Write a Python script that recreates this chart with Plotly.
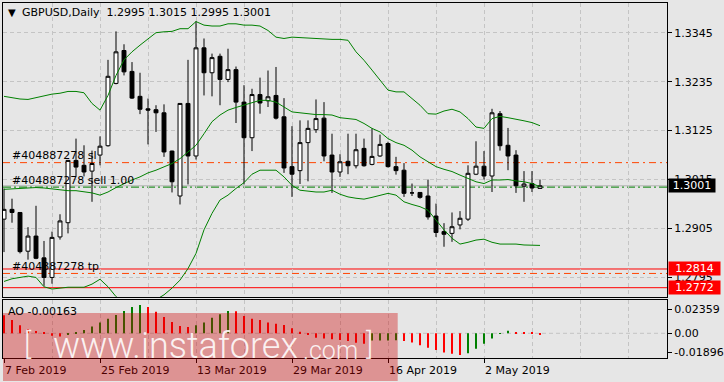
import plotly.graph_objects as go
import pandas as pd

# ---------------- data ----------------
dates = pd.bdate_range("2019-02-07", "2019-05-13")

opens = [1.2926, 1.2948, 1.2941, 1.2854, 1.2888, 1.2839, 1.2795, 1.2886, 1.2918, 1.3058,
         1.3047, 1.3034, 1.3070, 1.3091, 1.3231, 1.3305, 1.3258, 1.3202, 1.3174, 1.3172,
         1.3165, 1.3079, 1.2978, 1.3186, 1.3068, 1.3311, 1.3255, 1.3292, 1.3240, 1.3262,
         1.3189, 1.3109, 1.3206, 1.3192, 1.3204, 1.3156, 1.3044, 1.3035, 1.3098, 1.3127,
         1.3153, 1.3070, 1.3032, 1.3056, 1.3046, 1.3085, 1.3049, 1.3068, 1.3096, 1.3044,
         1.3036, 1.2985, 1.2986, 1.2978, 1.2933, 1.2898, 1.2894, 1.2913, 1.2926, 1.3027,
         1.3045, 1.3023, 1.3163, 1.3092, 1.3070, 1.3000, 1.3006, 1.2995]
highs = [1.2995, 1.2972, 1.2942, 1.2908, 1.2956, 1.2877, 1.2898, 1.2937, 1.3059, 1.3107,
         1.3092, 1.3080, 1.3112, 1.3284, 1.3348, 1.3319, 1.3279, 1.3255, 1.3197, 1.3182,
         1.3184, 1.3080, 1.3187, 1.3284, 1.3371, 1.3332, 1.3298, 1.3298, 1.3309, 1.3269,
         1.3227, 1.3219, 1.3244, 1.3260, 1.3268, 1.3198, 1.3135, 1.3148, 1.3148, 1.3195,
         1.3189, 1.3118, 1.3072, 1.3118, 1.3118, 1.3107, 1.3130, 1.3116, 1.3100, 1.3066,
         1.3052, 1.3006, 1.2987, 1.3015, 1.2961, 1.2917, 1.2941, 1.2944, 1.3047, 1.3101,
         1.3079, 1.3174, 1.3169, 1.3131, 1.3081, 1.3034, 1.3034, 1.3015]
lows = [1.2852, 1.2918, 1.2849, 1.2835, 1.2836, 1.2776, 1.2781, 1.2880, 1.2894, 1.3022,
        1.3022, 1.2965, 1.3047, 1.3089, 1.3229, 1.3249, 1.3196, 1.3162, 1.3094, 1.3122,
        1.3066, 1.2986, 1.2959, 1.3004, 1.3060, 1.3204, 1.3202, 1.3182, 1.3234, 1.3142,
        1.3004, 1.3079, 1.3163, 1.3178, 1.3150, 1.3030, 1.2976, 1.3005, 1.3011, 1.3120,
        1.3056, 1.2985, 1.3021, 1.3027, 1.3040, 1.3044, 1.3047, 1.3066, 1.3042, 1.3026,
        1.2976, 1.2978, 1.2972, 1.2925, 1.2886, 1.2864, 1.2875, 1.2903, 1.2922, 1.3025,
        1.3015, 1.2987, 1.3080, 1.3036, 1.2985, 1.2965, 1.2987, 1.2995]
closes = [1.2948, 1.2941, 1.2853, 1.2888, 1.2838, 1.2795, 1.2885, 1.2922, 1.3058, 1.3043,
          1.3032, 1.3051, 1.3090, 1.3247, 1.3302, 1.3257, 1.3198, 1.3173, 1.3171, 1.3165,
          1.3077, 1.3010, 1.3186, 1.3068, 1.3311, 1.3255, 1.3289, 1.3240, 1.3262, 1.3189,
          1.3109, 1.3206, 1.3187, 1.3201, 1.3153, 1.3041, 1.3027, 1.3098, 1.3130, 1.3152,
          1.3068, 1.3032, 1.3055, 1.3046, 1.3082, 1.3046, 1.3067, 1.3094, 1.3044, 1.3035,
          1.2984, 1.2985, 1.2975, 1.2931, 1.2896, 1.2892, 1.2909, 1.2928, 1.3029, 1.3045,
          1.3023, 1.3165, 1.3091, 1.3068, 1.3001, 1.3005, 1.2996, 1.3001]

bb_upper = [1.3202, 1.3199, 1.3196, 1.3195, 1.3199, 1.3204, 1.3207, 1.3209, 1.3213, 1.3213,
            1.3210, 1.3186, 1.3171, 1.3204, 1.3249, 1.3284, 1.3302, 1.3317, 1.3332, 1.3345,
            1.3347, 1.3348, 1.3354, 1.3354, 1.3370, 1.3362, 1.3360, 1.3360, 1.3365, 1.3365,
            1.3362, 1.3362, 1.3360, 1.3350, 1.3335, 1.3332, 1.3335, 1.3334, 1.3333, 1.3332,
            1.3330, 1.3330, 1.3330, 1.3328, 1.3302, 1.3283, 1.3261, 1.3238, 1.3216, 1.3212,
            1.3212, 1.3197, 1.3182, 1.3163, 1.3162, 1.3169, 1.3173, 1.3167, 1.3152, 1.3133,
            1.3130, 1.3152, 1.3157, 1.3154, 1.3151, 1.3147, 1.3143, 1.3136]
bb_middle = [1.2993, 1.2994, 1.2996, 1.2997, 1.2997, 1.2996, 1.2994, 1.2992, 1.2990, 1.2990,
             1.2988, 1.2985, 1.2980, 1.2987, 1.2997, 1.3006, 1.3014, 1.3021, 1.3030, 1.3036,
             1.3044, 1.3051, 1.3062, 1.3077, 1.3092, 1.3118, 1.3145, 1.3160, 1.3171, 1.3177,
             1.3182, 1.3187, 1.3193, 1.3193, 1.3189, 1.3178, 1.3167, 1.3165, 1.3163, 1.3161,
             1.3161, 1.3160, 1.3154, 1.3152, 1.3150, 1.3141, 1.3130, 1.3122, 1.3107, 1.3098,
             1.3092, 1.3081, 1.3066, 1.3055, 1.3044, 1.3038, 1.3033, 1.3025, 1.3018, 1.3010,
             1.3006, 1.3014, 1.3014, 1.3015, 1.3012, 1.3010, 1.3006, 1.2999]
bb_lower = [1.2786, 1.2792, 1.2795, 1.2798, 1.2795, 1.2774, 1.2769, 1.2771, 1.2773, 1.2773,
            1.2773, 1.2780, 1.2791, 1.2774, 1.2752, 1.2735, 1.2722, 1.2718, 1.2725, 1.2745,
            1.2756, 1.2771, 1.2789, 1.2815, 1.2849, 1.2902, 1.2939, 1.2969, 1.2980, 1.2995,
            1.3008, 1.3027, 1.3036, 1.3036, 1.3036, 1.3021, 1.3002, 1.2991, 1.2989, 1.2987,
            1.2987, 1.2991, 1.2982, 1.2976, 1.2973, 1.2971, 1.2975, 1.2980, 1.2984, 1.2980,
            1.2965, 1.2959, 1.2954, 1.2946, 1.2924, 1.2902, 1.2883, 1.2870, 1.2874, 1.2879,
            1.2881, 1.2874, 1.2870, 1.2870, 1.2870, 1.2868, 1.2868, 1.2867]

ao_values = [0.0177, 0.0131, 0.0079, 0.0039, 0.0023, 0.0006, -0.0025, -0.0031, -0.0012, 0.0006,
             0.0033, 0.0066, 0.0105, 0.0144, 0.0180, 0.0220, 0.0259, 0.0279, 0.0259, 0.0213,
             0.0161, 0.0112, 0.0072, 0.0062, 0.0079, 0.0105, 0.0154, 0.0187, 0.0220, 0.0216,
             0.0171, 0.0144, 0.0131, 0.0105, 0.0095, 0.0082, 0.0049, 0.0016, -0.0010, -0.0043,
             -0.0052, -0.0059, -0.0066, -0.0075, -0.0092, -0.0102, -0.0072, -0.0071, -0.0070, -0.0068,
             -0.0075, -0.0090, -0.0118, -0.0141, -0.0164, -0.0190, -0.0200, -0.0213, -0.0197, -0.0151,
             -0.0102, -0.0052, -0.0004, 0.0026, 0.0013, 0.0011, 0.0003, -0.00163]

price_ticks = [1.3345, 1.3235, 1.3125, 1.3015, 1.2905, 1.2795]
ao_ticks = [0.02359, 0.0, -0.01896]
ao_tick_text = ["0.02359", "0.00", "-0.01896"]
date_tick_idx = [0, 12, 24, 36, 48, 60]

header_text = "GBPUSD,Daily  1.2995 1.3015 1.2995 1.3001"
ao_label = "AO -0.00163"
order_id = "#404887278"
sl_price = 1.3053
tp_price = 1.2804
open_price = 1.2998
bid_price = 1.3001
alert_levels = [1.2814, 1.2772]

# ---------------- geometry helpers ----------------
W_FIG, H_FIG = 724, 382
L, R, T, B = 3, 667, 3, 358
def px_x(px):
    return (px - L) / (R - L)
def px_y(py):
    return (B - py) / (B - T)

FONT = "DejaVu Sans"
BG = "#e6e6e6"
GRID = "#c4c4c4"
GDASH = "4px,3px"

x = list(range(len(dates)))
date_labels = [f"{d.day} {d:%b %Y}" for d in dates]
minor_grid = [v for v in range(0, 84, 6) if v not in date_tick_idx]

fig = go.Figure()
fig.add_trace(go.Candlestick(
    x=x, open=opens, high=highs, low=lows, close=closes,
    increasing=dict(line=dict(color="black", width=1), fillcolor="white"),
    decreasing=dict(line=dict(color="black", width=1), fillcolor="black"),
    whiskerwidth=0, xaxis="x", yaxis="y", hoverinfo="skip", showlegend=False))
for band in (bb_upper, bb_middle, bb_lower):
    fig.add_trace(go.Scatter(x=x, y=band, mode="lines",
                             line=dict(color="#008000", width=1),
                             xaxis="x", yaxis="y", hoverinfo="skip", showlegend=False))

ao_colors = ["#ff0000"] + ["#008000" if ao_values[i] > ao_values[i - 1] else "#ff0000"
                           for i in range(1, len(ao_values))]
fig.add_trace(go.Bar(x=x, y=ao_values, marker=dict(color=ao_colors, line=dict(width=0)),
                     width=0.13, xaxis="x2", yaxis="y2", hoverinfo="skip", showlegend=False))

xrange = [(L - 4) / 8, (R - 4) / 8]
common_x = dict(range=xrange, showgrid=True, gridcolor=GRID, griddash=GDASH, gridwidth=1,
                zeroline=False, showline=True, mirror=True, linecolor="black", linewidth=1,
                fixedrange=True)

main_bottom = px_y(297.3)
ao_top = px_y(300)

fig.update_layout(
    width=W_FIG, height=H_FIG,
    margin=dict(l=L, r=W_FIG - R, t=T, b=H_FIG - B, pad=0),
    paper_bgcolor=BG, plot_bgcolor=BG,
    showlegend=False, hovermode=False,
    font=dict(family=FONT, size=11, color="black"),
    xaxis=dict(**common_x, domain=[0, 1], anchor="y", tickvals=date_tick_idx,
               showticklabels=False, ticks="",
               minor=dict(tickvals=minor_grid, showgrid=True, gridcolor=GRID, griddash=GDASH, ticks=""),
               rangeslider=dict(visible=False)),
    xaxis2=dict(**common_x, domain=[0, 1], anchor="y2", matches="x",
                tickvals=date_tick_idx, ticktext=[date_labels[i] for i in date_tick_idx],
                ticks="outside", ticklen=4, tickcolor="black", tickwidth=1,
                ticklabelposition="outside right", ticklabelstandoff=2,
                tickfont=dict(family=FONT, size=11, color="black"),
                minor=dict(tickvals=minor_grid, showgrid=True, gridcolor=GRID, griddash=GDASH, ticks="")),
    yaxis=dict(domain=[main_bottom, 1], anchor="x", side="right",
               range=[1.3345 - (297.3 - 32.7) / 4450, 1.3345 + (32.7 - T) / 4450],
               tickvals=price_ticks, ticktext=[f"{v:.4f}" for v in price_ticks],
               ticks="outside", ticklen=4, tickcolor="black",
               tickfont=dict(family=FONT, size=11, color="black"),
               showgrid=True, gridcolor=GRID, griddash=GDASH, zeroline=False,
               showline=True, mirror=True, linecolor="black", linewidth=1,
               automargin=False, fixedrange=True),
    yaxis2=dict(domain=[0, ao_top], anchor="x2", side="right",
                range=[-(B - 333.3) / 1017, (333.3 - 300) / 1017],
                tickvals=ao_ticks, ticktext=ao_tick_text,
                ticks="outside", ticklen=4, tickcolor="black",
                tickfont=dict(family=FONT, size=11, color="black"),
                showgrid=False, zeroline=False,
                showline=True, mirror=True, linecolor="black", linewidth=1,
                automargin=False, fixedrange=True),
)

shapes = []
# AO zero level
shapes.append(dict(type="line", xref="x2 domain", x0=0, x1=1, yref="y2", y0=0, y1=0,
                   line=dict(color=GRID, width=1, dash=GDASH), layer="below"))
# price level lines
def hline(y, color, dash="solid"):
    return dict(type="line", xref="x domain", x0=0, x1=1, yref="y", y0=y, y1=y,
                line=dict(color=color, width=1, dash=dash), layer="below")
shapes.append(hline(bid_price, "#b4b4b4"))
shapes.append(hline(open_price, "#008000", "8px,3px,2px,3px"))
shapes.append(hline(sl_price, "#ff4500", "7px,4px,2px,4px"))
shapes.append(hline(tp_price, "#ff4500", "7px,4px,2px,4px"))
for lv in alert_levels:
    shapes.append(hline(lv, "#ff0000"))
# watermark background
shapes.append(dict(type="rect", xref="paper", yref="paper",
                   x0=px_x(3), x1=px_x(397.7), y0=px_y(381), y1=px_y(313),
                   fillcolor="rgba(204,0,0,0.36)", line=dict(width=0), layer="above"))
fig.update_layout(shapes=shapes)

ann = []
def txt(text, px, py, size=11, color="black", family=FONT, weight="normal", **kw):
    d = dict(text=text, xref="paper", yref="paper", x=px_x(px), y=px_y(py),
             xanchor="left", yanchor="middle", showarrow=False, borderpad=0,
             font=dict(family=family, size=size, color=color, weight=weight))
    d.update(kw)
    return d

ann.append(txt("▼", 6.5, 12.5, size=10))
ann.append(txt(header_text, 21, 12.7))
ann.append(txt(f"{order_id} sl", 11, 155.7))
ann.append(txt(f"{order_id} sell 1.00", 11, 180.3))
ann.append(txt(f"{order_id} tp", 11, 266.7))
ann.append(txt(ao_label, 7, 311.3))

# right-axis price boxes
def price_box(val, bg, width):
    return dict(text=f"{val:.4f}", xref="paper", yref="y", x=px_x(668), y=val,
                xanchor="left", yanchor="middle", showarrow=False, borderpad=0,
                bgcolor=bg, width=width, height=13, align="center",
                font=dict(family=FONT, size=11, color="white"))
ann.append(price_box(bid_price, "black", 46))
for lv in alert_levels:
    ann.append(price_box(lv, "#ff0000", 51))

# watermark text
WM = "rgba(255,255,255,0.88)"
ann.append(txt("[", 23, 343, size=30, color=WM, family="Roboto", weight=300))
ann.append(txt("www.instaforex", 52, 346, size=36, color=WM, family="Roboto", weight=300))
ann.append(txt(".com", 302, 350, size=25, color=WM, family="Roboto", weight=300))
ann.append(txt("]", 365, 343, size=30, color=WM, family="Roboto", weight=300))
fig.update_layout(annotations=ann)

fig.write_html("out.html", config={"displayModeBar": False})
